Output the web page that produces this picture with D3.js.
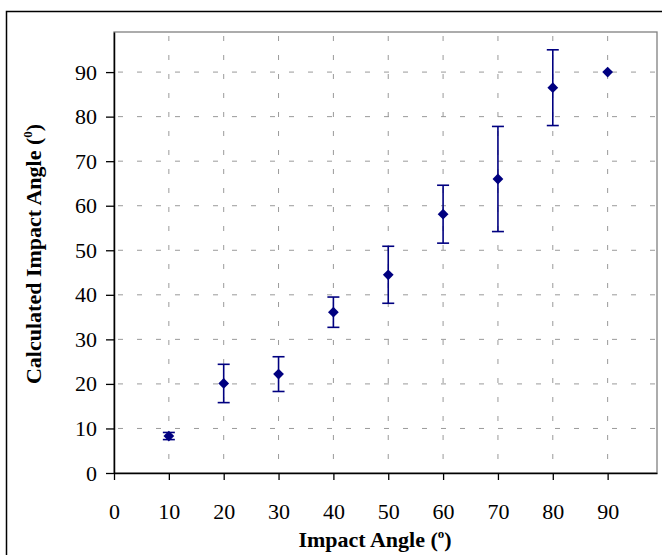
<!DOCTYPE html>
<html>
<head>
<meta charset="utf-8">
<script src="https://cdn.jsdelivr.net/npm/d3@7"></script>
<style>
  body { margin: 0; background: #fff; }
  text { font-family: "Liberation Serif", "Times New Roman", serif; }
</style>
</head>
<body>
<div class="visHolder"></div>
<script>
const impactAngle = [10, 20, 30, 40, 50, 60, 70, 80, 90];
const calculated  = [8.3, 20.1, 22.2, 36.1, 44.5, 58.1, 66.0, 86.5, 90.0];
const errorAmount = [0.8, 4.3, 3.9, 3.4, 6.4, 6.5, 11.8, 8.5, 0];
const tickValues  = [0, 10, 20, 30, 40, 50, 60, 70, 80, 90];

const width = 662;
const height = 555;
const plot = { left: 114, right: 657, top: 32, bottom: 473 };

const svg = d3.select('.visHolder')
  .append('svg')
  .attr('width', width)
  .attr('height', height);

// outer chart frame (runs off the right and bottom edges)
svg.append('rect')
  .attr('x', 6.5).attr('y', 11.5)
  .attr('width', 680).attr('height', 600)
  .attr('fill', 'none')
  .attr('stroke', '#000')
  .attr('stroke-width', 1.5);

const xScale = d3.scaleLinear().domain([0, 99]).range([plot.left, plot.right]);
const yScale = d3.scaleLinear().domain([0, 99]).range([plot.bottom, plot.top]);

// plot area border
svg.append('rect')
  .attr('x', plot.left).attr('y', plot.top)
  .attr('width', plot.right - plot.left)
  .attr('height', plot.bottom - plot.top)
  .attr('fill', 'none')
  .attr('stroke', '#808080')
  .attr('stroke-width', 1.3);

// dashed grid
svg.append('g')
  .selectAll('line')
  .data(tickValues.slice(1))
  .enter()
  .append('line')
  .attr('x1', plot.left).attr('x2', plot.right)
  .attr('y1', d => yScale(d)).attr('y2', d => yScale(d))
  .attr('stroke', '#9a9a9a')
  .attr('stroke-dasharray', '5,14')
  .attr('stroke-dashoffset', -4);

svg.append('g')
  .selectAll('line')
  .data(tickValues.slice(1))
  .enter()
  .append('line')
  .attr('x1', d => xScale(d)).attr('x2', d => xScale(d))
  .attr('y1', plot.top).attr('y2', plot.bottom)
  .attr('stroke', '#9a9a9a')
  .attr('stroke-dasharray', '5,14')
  .attr('stroke-dashoffset', -4);

const xAxis = d3.axisBottom(xScale)
  .tickValues(tickValues)
  .tickSizeInner(7)
  .tickSizeOuter(0)
  .tickPadding(23);

const yAxis = d3.axisLeft(yScale)
  .tickValues(tickValues)
  .tickSizeInner(8)
  .tickSizeOuter(0)
  .tickPadding(9);

svg.append('g')
  .attr('id', 'x-axis')
  .attr('transform', `translate(0, ${plot.bottom})`)
  .call(xAxis)
  .call(g => g.select('.domain').attr('stroke-width', 1.5))
  .call(g => g.selectAll('.tick line').attr('stroke-width', 1.3))
  .call(g => g.selectAll('text').attr('font-size', 22).attr('fill', '#000'));

svg.append('g')
  .attr('id', 'y-axis')
  .attr('transform', `translate(${plot.left}, 0)`)
  .call(yAxis)
  .call(g => g.select('.domain').attr('stroke-width', 1.5))
  .call(g => g.selectAll('.tick line').attr('stroke-width', 1.3))
  .call(g => g.selectAll('text').attr('font-size', 22).attr('fill', '#000'));

// error bars
const navy = '#000080';
const bars = svg.append('g')
  .selectAll('g')
  .data(impactAngle.filter((d, i) => errorAmount[i] > 0).map(d => impactAngle.indexOf(d)))
  .enter()
  .append('g')
  .attr('stroke', navy)
  .attr('stroke-width', 1.6);

bars.append('line')
  .attr('x1', i => xScale(impactAngle[i])).attr('x2', i => xScale(impactAngle[i]))
  .attr('y1', i => yScale(calculated[i] + errorAmount[i]))
  .attr('y2', i => yScale(calculated[i] - errorAmount[i]));

[1, -1].forEach(sign => {
  bars.append('line')
    .attr('x1', i => xScale(impactAngle[i]) - 6)
    .attr('x2', i => xScale(impactAngle[i]) + 6)
    .attr('y1', i => yScale(calculated[i] + sign * errorAmount[i]))
    .attr('y2', i => yScale(calculated[i] + sign * errorAmount[i]));
});

// diamond markers
svg.append('g')
  .selectAll('path')
  .data(impactAngle)
  .enter()
  .append('path')
  .attr('d', d3.symbol(d3.symbolSquare, 58))
  .attr('transform', (d, i) => `translate(${xScale(d)}, ${yScale(calculated[i])}) rotate(45)`)
  .attr('fill', navy);

// axis titles
const xTitle = svg.append('text')
  .attr('x', 375)
  .attr('y', 547)
  .attr('text-anchor', 'middle')
  .attr('font-size', 22)
  .attr('font-weight', 'bold');
xTitle.append('tspan').text('Impact Angle (');
xTitle.append('tspan').attr('font-size', 13).attr('dy', -9).text('o');
xTitle.append('tspan').attr('dy', 9).text(')');

const yTitle = svg.append('text')
  .attr('transform', 'translate(41, 254) rotate(-90)')
  .attr('text-anchor', 'middle')
  .attr('font-size', 22)
  .attr('font-weight', 'bold');
yTitle.append('tspan').text('Calculated Impact Angle (');
yTitle.append('tspan').attr('font-size', 13).attr('dy', -9).text('0');
yTitle.append('tspan').attr('dy', 9).text(')');
</script>
</body>
</html>
